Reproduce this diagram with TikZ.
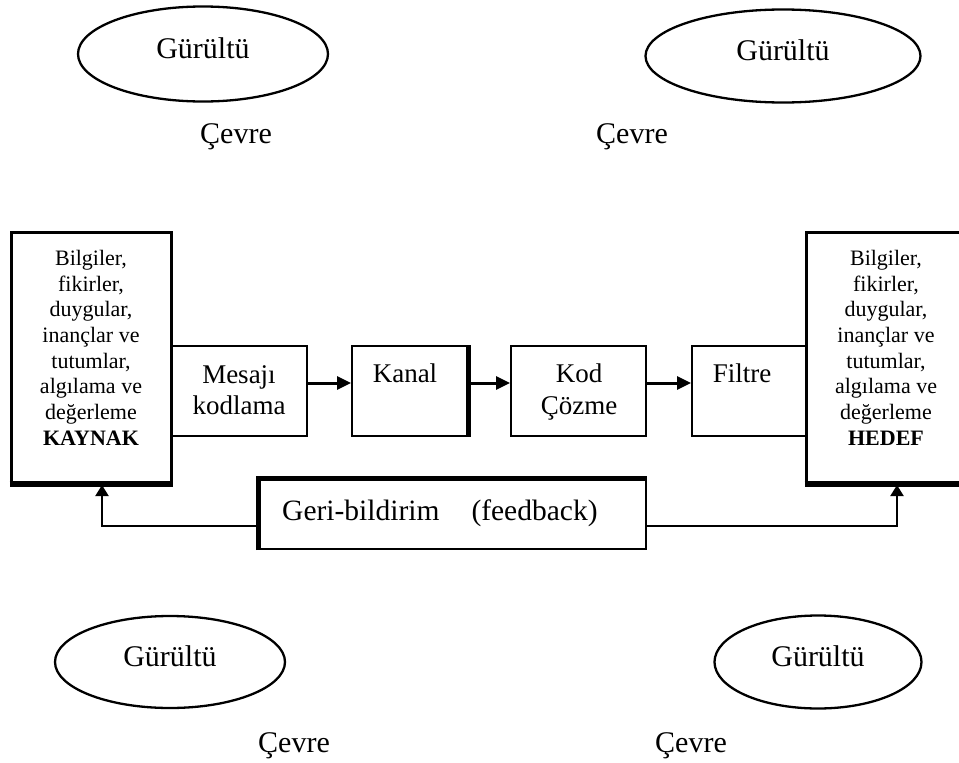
\documentclass[tikz,border=0pt]{standalone}
\usepackage{fontspec}
\setmainfont{Liberation Serif}
\usetikzlibrary{shapes.geometric,arrows.meta}
\newcommand{\BigFont}{\fontsize{30}{34}\selectfont}
\newcommand{\MidFont}{\fontsize{27}{31.5}\selectfont}
\newcommand{\SmallFont}{\fontsize{22}{25.7}\selectfont}

\begin{document}
\begin{tikzpicture}[x=1pt,y=-1pt,
    noise/.style={draw,ellipse,line width=2.3pt,font=\BigFont,text depth=12pt},
    env/.style={anchor=base,font=\BigFont},
    bigbox/.style={draw,line width=3pt,minimum width=160,minimum height=250},
    stepbox/.style={draw,line width=2pt,minimum height=90},
    boxtext/.style={anchor=north,inner sep=0pt,align=center,font=\SmallFont},
    steptext/.style={inner sep=0pt,align=center,font=\MidFont},
    flow/.style={line width=3pt,-{Triangle[length=14pt,width=13pt]}},
    back/.style={line width=2pt,-{Triangle[length=11pt,width=13pt]}}]
  \useasboundingbox (0,0) rectangle (959,763);
  \clip (0,0) rectangle (959,763);

  \node[noise,minimum width=250,minimum height=95] (noise1) at (203,54) {Gürültü};
  \node[noise,minimum width=275,minimum height=93] (noise2) at (783,56) {Gürültü};
  \node[noise,minimum width=230,minimum height=92] (noise3) at (170,662) {Gürültü};
  \node[noise,minimum width=207,minimum height=93] (noise4) at (818,662) {Gürültü};
  \node[env] (env1) at (236,143) {Çevre};
  \node[env] (env2) at (632,143) {Çevre};
  \node[env] (env3) at (294,752) {Çevre};
  \node[env] (env4) at (691,752) {Çevre};

  \node[bigbox] (kaynak) at (91,357) {};
  \node[bigbox] (hedef) at (886,357) {};
  \node[stepbox,minimum width=136] (mesaj) at (239,391) {};
  \node[stepbox,minimum width=115] (kanal) at (409.5,391) {};
  \node[stepbox,minimum width=135] (kod) at (578.5,391) {};
  \node[stepbox,minimum width=114] (filtre) at (749,391) {};
  \node[draw,line width=2.3pt,minimum width=386,minimum height=69] (geri) at (453,514.5) {};
  \draw[line width=6pt] (kaynak.south west) -- (kaynak.south east);
  \draw[line width=6pt] (hedef.south west) -- (hedef.south east);
  \draw[line width=5pt] (kanal.north east) -- (kanal.south east);
  \draw[line width=5pt] (geri.south west) -- (geri.north west) -- (geri.north east);

  \node[boxtext] (kaynaktxt) at (91,250) {Bilgiler,\\fikirler,\\duygular,\\inançlar ve\\tutumlar,\\algılama ve\\değerleme\\\textbf{KAYNAK}};
  \node[boxtext] (hedeftxt) at (886,250) {Bilgiler,\\fikirler,\\duygular,\\inançlar ve\\tutumlar,\\algılama ve\\değerleme\\\textbf{HEDEF}};
  \node[steptext,anchor=north] (mesajtxt) at (239,365) {Mesajı\\kodlama};
  \node[steptext,anchor=base] (kanaltxt) at (405,382) {Kanal};
  \node[steptext,anchor=north] (kodtxt) at (579,364) {Kod\\Çözme};
  \node[steptext,anchor=base] (filtretxt) at (742,382) {Filtre};
  \node[anchor=base west,inner sep=0pt,font=\fontsize{29.5}{34}\selectfont] (geritxt) at (282,520) {Geri-bildirim\hspace{32pt}(feedback)};

  \draw[flow] ([yshift=8pt]mesaj.east) -- ([yshift=8pt]kanal.west);
  \draw[flow] ([yshift=8pt]kanal.east) -- ([yshift=8pt]kod.west);
  \draw[flow] ([yshift=8pt]kod.east) -- ([yshift=8pt]filtre.west);

  \coordinate (fbl) at (102,526);
  \coordinate (fbr) at (897,526);
  \draw[back,shorten >=1.5pt] (geri.west |- fbl) -- (fbl) -- (fbl |- kaynak.south);
  \draw[back,shorten >=1.5pt] (geri.east |- fbr) -- (fbr) -- (fbr |- hedef.south);
\end{tikzpicture}
\end{document}
